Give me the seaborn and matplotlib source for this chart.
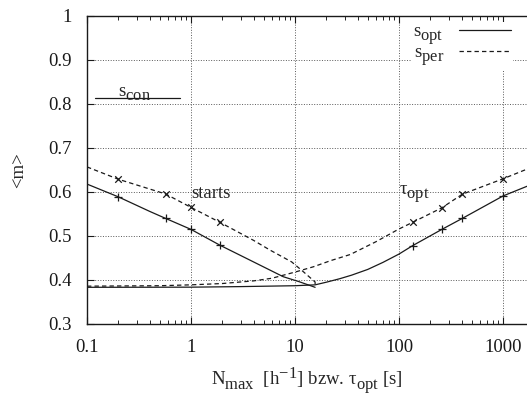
import matplotlib
matplotlib.use("Agg")
import matplotlib.pyplot as plt
import matplotlib._mathtext as mt
import seaborn as sns
from matplotlib.ticker import LogLocator, NullFormatter

# gnuplot-like subscripts: nearly full size, dropped further
mt.SHRINK_FACTOR = 0.88
mt.FontConstantsBase.sub1 = 0.55
mt.FontConstantsBase.subdrop = 0.55

# "starts" branch, x = N_max [1/h]
starts_x = [0.1, 0.2, 0.4, 0.57, 1, 1.9, 4, 7.7, 11, 15.6]
starts_opt = [0.618, 0.589, 0.556, 0.540, 0.515, 0.479, 0.441, 0.4075, 0.396, 0.3834]
starts_per_x = [0.1, 0.2, 0.57, 1, 1.9, 4, 5.75, 9.3, 12, 15.6, 15.6]
starts_per = [0.657, 0.629, 0.5955, 0.565, 0.531, 0.49, 0.468, 0.441, 0.419, 0.3955, 0.3834]

# tau_opt branch, x = tau_opt [s]
tau_x = [0.1, 1, 3, 10, 15.6, 20, 27, 35, 50, 70, 100, 135, 258, 406, 1000, 1700]
tau_opt = [0.3834, 0.3837, 0.385, 0.387, 0.389, 0.395, 0.403, 0.411, 0.424, 0.44,
           0.459, 0.478, 0.515, 0.540, 0.591, 0.613]
tau_per_x = [0.1, 0.5, 1, 2, 4, 6, 10, 15, 22, 34, 60, 100, 135, 258, 406, 1000, 1700]
tau_per = [0.386, 0.387, 0.389, 0.392, 0.398, 0.404, 0.418, 0.43, 0.444, 0.458,
           0.487, 0.516, 0.531, 0.564, 0.595, 0.63, 0.652]

# marked points
mark_starts_x = [0.2, 0.57, 1, 1.9]
mark_starts_opt = [0.589, 0.540, 0.515, 0.479]
mark_starts_per = [0.629, 0.5955, 0.565, 0.531]
mark_tau_x = [135, 258, 406, 1000]
mark_tau_opt = [0.478, 0.515, 0.540, 0.591]
mark_tau_per = [0.531, 0.564, 0.595, 0.63]

scon_x = [0.12, 0.79]
scon_y = [0.813, 0.813]

xticks = [0.1, 1, 10, 100, 1000]
xtick_labels = ["0.1", "1", "10", "100", "1000"]
yticks = [0.3, 0.4, 0.5, 0.6, 0.7, 0.8, 0.9, 1.0]
ytick_labels = ["0.3", "0.4", "0.5", "0.6", "0.7", "0.8", "0.9", "1"]

sns.set_theme(style="ticks")
plt.rcParams["font.family"] = ["Liberation Serif", "DejaVu Serif"]
plt.rcParams["mathtext.fontset"] = "custom"
plt.rcParams["mathtext.rm"] = "Liberation Serif"
plt.rcParams["mathtext.it"] = "Liberation Serif:italic"
fs = 13.5

fig = plt.figure(figsize=(5.27, 3.96), dpi=100)
ax = fig.add_axes([87 / 527, 72 / 396, 440 / 527, 308 / 396])

lw = 0.9
dash = (3.5, 2.5)
sns.lineplot(x=tau_x, y=tau_opt, ax=ax, color="k", lw=lw, estimator=None, sort=False,
             label=r"$\mathrm{s}_{\mathrm{opt}}$")
sns.lineplot(x=tau_per_x, y=tau_per, ax=ax, color="k", lw=lw, estimator=None, sort=False,
             label=r"$\mathrm{s}_{\mathrm{per}}$")
sns.lineplot(x=starts_x, y=starts_opt, ax=ax, color="k", lw=lw, estimator=None, sort=False)
sns.lineplot(x=starts_per_x, y=starts_per, ax=ax, color="k", lw=lw, estimator=None, sort=False)
sns.lineplot(x=scon_x, y=scon_y, ax=ax, color="k", lw=lw, estimator=None, sort=False)
ax.lines[1].set_dashes(dash)
ax.lines[3].set_dashes(dash)

sns.scatterplot(x=mark_starts_x, y=mark_starts_opt, ax=ax, marker="+", color="k", s=40, linewidth=0.9)
sns.scatterplot(x=mark_starts_x, y=mark_starts_per, ax=ax, marker="x", color="k", s=22, linewidth=0.9)
sns.scatterplot(x=mark_tau_x, y=mark_tau_opt, ax=ax, marker="+", color="k", s=40, linewidth=0.9)
sns.scatterplot(x=mark_tau_x, y=mark_tau_per, ax=ax, marker="x", color="k", s=22, linewidth=0.9)

ax.set_xscale("log")
ax.set_xlim(0.1, 1700)
ax.set_ylim(0.3, 1.0)
ax.set_xticks(xticks, xtick_labels)
ax.set_yticks(yticks, ytick_labels)
ax.xaxis.set_minor_locator(LogLocator(base=10, subs=range(2, 10)))
ax.xaxis.set_minor_formatter(NullFormatter())
ax.tick_params(axis="both", which="major", direction="in", length=5, width=0.8,
               labelsize=fs, pad=11, top=True, right=False, colors="k")
ax.tick_params(axis="x", which="minor", direction="in", length=3, width=0.7, top=True)
ax.grid(True, which="major", ls=":", lw=0.7, color="0.35")
for s in ["left", "bottom", "top"]:
    ax.spines[s].set_color("k")
    ax.spines[s].set_linewidth(1.0)
ax.spines["right"].set_visible(False)

ax.set_ylabel("<m>", fontsize=fs, labelpad=15)
ax.set_xlabel(r"N$_{\mathrm{max}}$  [h$^{\mathrm{-1}}$] bzw. $\mathrm{\tau}_{\mathrm{opt}}$ [s]",
              fontsize=fs, labelpad=7)

ax.text(1.0, 0.596, "starts", fontsize=fs, va="center", ha="left")
ax.text(100, 0.592, r"$\mathrm{\tau}_{\mathrm{opt}}$", fontsize=fs, va="baseline", ha="left")
ax.text(0.2, 0.819, r"$\mathrm{s}_{\mathrm{con}}$", fontsize=fs, va="baseline", ha="left")

leg = ax.legend(loc="upper right", bbox_to_anchor=(0.99, 1.012), markerfirst=False,
                frameon=True, fancybox=False, facecolor="white", edgecolor="none",
                framealpha=1, fontsize=fs, handlelength=2.8, labelspacing=-0.15,
                borderpad=0.1, handletextpad=0.8)
# keep the key box above the grid and curves but under the frame
leg.set_zorder(2.4)

fig.savefig("out.png", dpi=100)
